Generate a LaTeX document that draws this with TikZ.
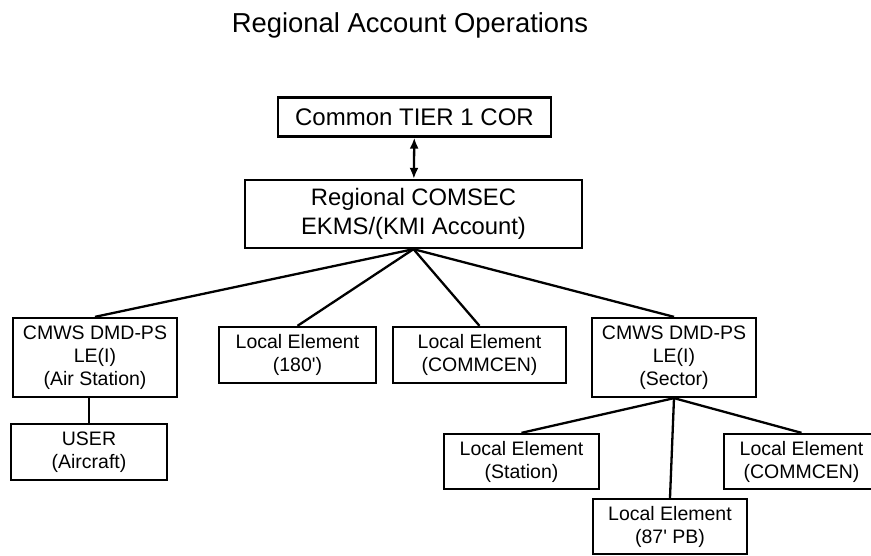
\documentclass[tikz,border=0pt]{standalone}
\usepackage{fontspec}
\setmainfont{Liberation Sans}
\usetikzlibrary{arrows.meta}
\begin{document}
\begin{tikzpicture}[x=1pt,y=-1pt,>={Latex[length=11pt,width=9pt]},
    box/.style={draw,line width=2.3pt,align=center,inner sep=0pt,font=\fontsize{19.5}{23}\selectfont},
    link/.style={line width=2.3pt}]
\useasboundingbox (0,0) rectangle (871,556);
\node[font=\fontsize{27.4}{30}\selectfont,anchor=base] (title) at (410,33) {Regional Account Operations};
\node[box,minimum width=273,minimum height=39,font=\fontsize{24}{28}\selectfont] (tier) at (414.5,117) {Common TIER 1 COR};
\node[box,minimum width=337,minimum height=68,font=\fontsize{23.8}{29}\selectfont] (regional) at (413.5,214) {Regional COMSEC\\EKMS/(KMI Account)};
\node[box,minimum width=164,minimum height=79] (cmwsair) at (95,357.5) {CMWS DMD-PS\\LE(I)\\(Air Station)};
\node[box,minimum width=157,minimum height=56] (le180) at (297.5,355) {Local Element\\(180\textquotesingle)};
\node[box,minimum width=173,minimum height=56] (lecommcen) at (479.5,355) {Local Element\\(COMMCEN)};
\node[box,minimum width=164,minimum height=79] (cmwssector) at (674,357.5) {CMWS DMD-PS\\LE(I)\\(Sector)};
\node[box,minimum width=156,minimum height=56] (user) at (89,452) {USER\\(Aircraft)};
\node[box,minimum width=155,minimum height=55] (lestation) at (521.5,461.5) {Local Element\\(Station)};
\node[box,minimum width=155,minimum height=55] (lesectorcom) at (801.5,461.5) {Local Element\\(COMMCEN)};
\node[box,minimum width=154,minimum height=55] (le87) at (670,526.5) {Local Element\\(87\textquotesingle{} PB)};
\draw[link,<->] (tier) -- (regional);
\draw[link] (regional.south) -- (cmwsair.north);
\draw[link] (regional.south) -- (le180.north);
\draw[link] (regional.south) -- (lecommcen.north);
\draw[link] (regional.south) -- (cmwssector.north);
\draw[link] (user.north) -- (user.north |- cmwsair.south);
\draw[link] (cmwssector.south) -- (lestation.north);
\draw[link] (cmwssector.south) -- (le87.north);
\draw[link] (cmwssector.south) -- (lesectorcom.north);
\end{tikzpicture}
\end{document}
